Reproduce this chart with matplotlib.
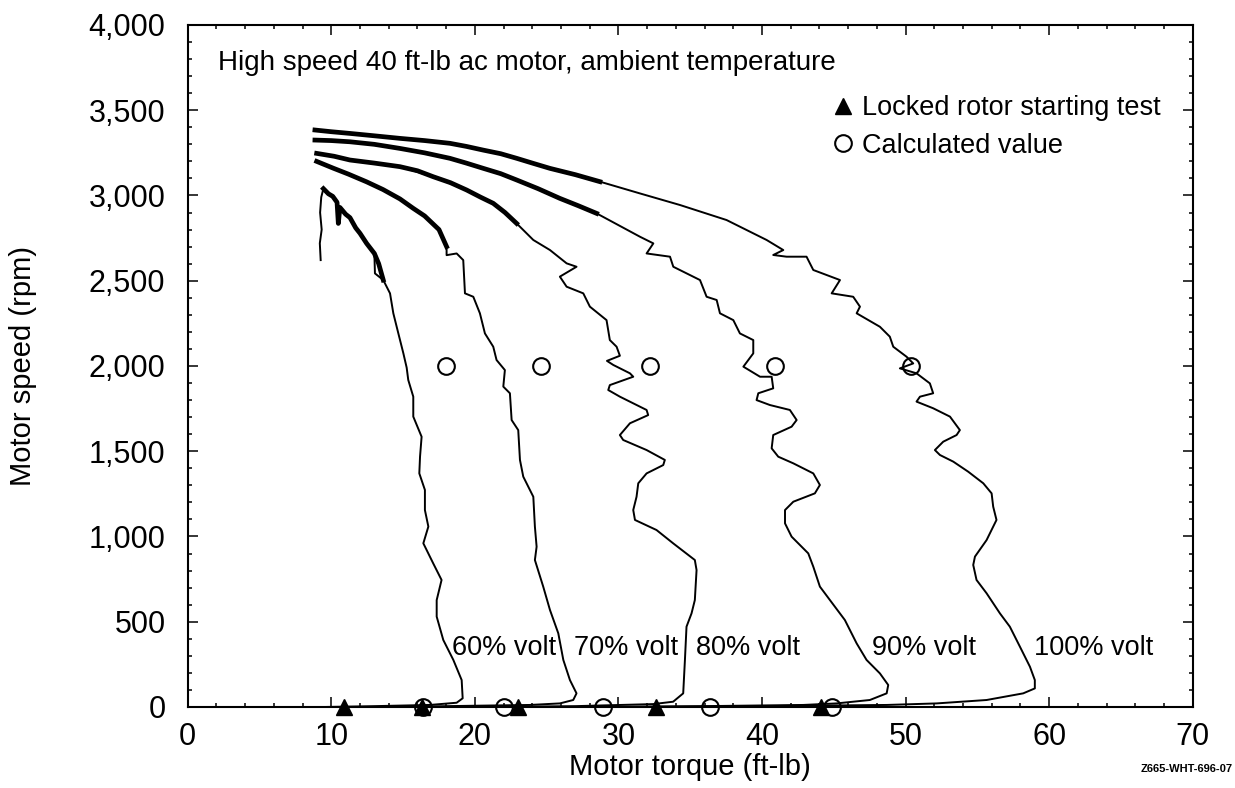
import matplotlib
matplotlib.use("Agg")
import matplotlib.pyplot as plt
from matplotlib.ticker import MultipleLocator, StrMethodFormatter

plt.rcParams['font.family'] = ['Liberation Sans', 'DejaVu Sans']

# ---- data (torque ft-lb, speed rpm) ----
v60_x = [9.26, 9.20, 9.33, 9.22, 9.30, 9.45, 10.1, 10.4, 10.49, 10.6, 11.3, 12.0, 12.46, 13.0, 13.04,
         13.62, 14.09, 14.32, 14.67, 15.02, 15.25, 15.36, 15.71, 15.71, 16.29, 16.18, 16.13, 16.52, 16.52,
         16.76, 16.41, 17.10, 17.68, 17.34, 17.34, 17.80, 18.50, 19.08, 19.15, 18.73, 16.87, 13.0, 9.5]
v60_y = [2621, 2720, 2800, 2900, 2990, 3040, 2995, 2960, 2836, 2930, 2870, 2778, 2719, 2660, 2543,
         2504, 2426, 2309, 2191, 2074, 1990, 1918, 1820, 1703, 1585, 1468, 1370, 1273, 1155,
         1058, 960, 842, 745, 627, 530, 393, 276, 158, 51, 25, 12, 5, 0]
v60_band_x = [9.45, 9.8, 10.1, 10.4, 10.49, 10.6, 11.0, 11.3, 11.7, 12.0, 12.46, 13.0, 13.3, 13.62]
v60_band_y = [3040, 3010, 2995, 2960, 2836, 2930, 2890, 2870, 2810, 2778, 2719, 2660, 2600, 2504]

v70_x = [8.98, 10.14, 12.46, 14.78, 16.5, 17.5, 18.03, 18.03, 18.73, 19.19, 19.31, 19.89, 20.35, 20.70,
         21.28, 21.51, 22.09, 21.98, 22.44, 22.56, 23.02, 23.14, 23.37, 24.07, 24.18, 24.30, 24.18,
         24.76, 25.23, 25.81, 26.16, 26.62, 27.08, 26.85, 25.92, 23.83, 18.0, 14.0]
v70_y = [3200, 3160, 3080, 2980, 2880, 2800, 2700, 2650, 2660, 2621, 2426, 2406, 2309, 2191,
         2113, 2035, 1976, 1879, 1840, 1683, 1624, 1449, 1351, 1233, 1058, 940, 862,
         706, 569, 432, 276, 158, 80, 41, 21, 12, 5, 0]
v70_band_x = [8.98, 10.14, 11.2, 12.46, 13.6, 14.78, 15.7, 16.5, 17.5, 18.03]
v70_band_y = [3200, 3160, 3125, 3080, 3035, 2980, 2925, 2880, 2800, 2700]

v80_x = [8.98, 11.3, 14.78, 17.1, 19.43, 21.28, 22.91, 24.07, 25.23, 26.39, 27.08, 25.92, 26.39, 27.55,
         28.01, 29.17, 29.4, 29.87, 30.1, 29.2, 29.64, 30.80, 31.03, 29.40, 29.29, 30.10, 31.96, 32.07,
         30.80, 30.10, 30.33, 31.96, 33.23, 33.12, 31.96, 31.38, 31.26, 31.03, 31.15, 32.65, 33.81,
         35.32, 35.44, 35.32, 35.09, 34.74, 34.63, 34.51, 33.81, 32.42, 27.0, 20.0]
v80_y = [3247, 3208, 3169, 3110, 3032, 2954, 2836, 2739, 2680, 2602, 2582, 2524, 2465, 2426,
         2348, 2269, 2152, 2113, 2060, 2030, 2006, 1957, 1937, 1888, 1859, 1820, 1742, 1712,
         1664, 1595, 1566, 1507, 1449, 1419, 1370, 1312, 1233, 1155, 1097, 1038, 960,
         862, 803, 627, 549, 471, 276, 80, 31, 17, 5, 0]
v80_band_x = [8.98, 10.2, 11.3, 13.0, 14.78, 16.0, 17.1, 18.3, 19.43, 20.4, 21.28, 22.1, 22.91]
v80_band_y = [3247, 3230, 3208, 3190, 3169, 3145, 3110, 3075, 3032, 2990, 2954, 2900, 2836]

v90_x = [8.86, 11.3, 14.78, 18.26, 20.59, 22.91, 25.92, 28.48, 31.5, 32.43, 31.96, 33.59, 33.82, 34.75,
         35.68, 36.14, 36.84, 37.07, 38.0, 38.46, 39.39, 39.39, 38.7, 39.86, 40.67, 40.78, 39.74,
         39.62, 40.55, 41.94, 42.41, 42.06, 40.78, 40.67, 41.13, 42.18, 43.57, 44.03, 43.68, 42.18,
         41.60, 41.60, 42.06, 43.22, 43.57, 44.03, 44.73, 45.77, 46.59, 47.28, 48.21, 48.79, 48.68,
         47.51, 45.19, 42.87, 36.0, 28.0]
v90_y = [3325, 3315, 3276, 3218, 3159, 3091, 2983, 2895, 2758, 2719, 2660, 2641, 2582, 2543,
         2504, 2406, 2387, 2309, 2269, 2191, 2152, 2074, 1996, 1937, 1937, 1869, 1840,
         1800, 1771, 1742, 1683, 1644, 1595, 1517, 1468, 1429, 1370, 1302, 1253, 1204,
         1155, 1077, 999, 901, 823, 706, 627, 510, 373, 276, 197, 129, 80,
         41, 21, 12, 5, 0]
v90_band_x = [8.86, 10.0, 11.3, 13.0, 14.78, 16.5, 18.26, 19.4, 20.59, 21.8, 22.91, 24.4, 25.92, 27.2, 28.48]
v90_band_y = [3325, 3322, 3315, 3300, 3276, 3250, 3218, 3190, 3159, 3128, 3091, 3040, 2983, 2940, 2895]

v100_x = [8.86, 11.3, 14.78, 18.26, 20.59, 22.91, 25.23, 28.71, 31.5, 34.29, 37.53, 40.32, 41.48,
          40.78, 41.71, 43.1, 43.57, 45.43, 44.85, 46.35, 46.82, 46.59, 48.21, 48.9, 49.14, 50.07,
          50.53, 49.6, 50.76, 51.69, 51.92, 51.0, 50.76, 51.92, 53.09, 53.78, 53.55, 52.62, 52.04,
          52.39, 53.32, 54.36, 55.41, 55.99, 56.10, 56.33, 55.64, 54.83, 54.71, 54.94, 55.64, 56.57,
          57.26, 57.96, 58.66, 59.0, 59.0, 58.19, 55.64, 52.16, 48.68, 40.0, 30.0]
v100_y = [3384, 3364, 3335, 3306, 3266, 3218, 3159, 3081, 3012, 2944, 2856, 2739, 2680,
          2651, 2641, 2641, 2563, 2504, 2426, 2406, 2348, 2309, 2230, 2172, 2113, 2054,
          2015, 1986, 1957, 1898, 1840, 1820, 1791, 1752, 1703, 1624, 1595, 1556, 1507,
          1478, 1439, 1380, 1312, 1253, 1175, 1097, 979, 882, 833, 745, 667, 549,
          471, 354, 236, 158, 109, 80, 41, 21, 12, 5, 0]
v100_band_x = [8.86, 10.0, 11.3, 13.0, 14.78, 16.5, 18.26, 19.4, 20.59, 21.8, 22.91, 24.0, 25.23, 27.0, 28.71]
v100_band_y = [3384, 3374, 3364, 3350, 3335, 3322, 3306, 3288, 3266, 3245, 3218, 3190, 3159, 3122, 3081]

calc_mid_x = [18.0, 24.6, 32.2, 40.9, 50.4]
calc_mid_y = [2000, 2000, 2000, 2000, 2000]
calc_zero_x = [16.4, 22.0, 28.9, 36.4, 44.9]
locked_x = [10.9, 16.3, 23.0, 32.6, 44.1]

volt_labels = ['60% volt', '70% volt', '80% volt', '90% volt', '100% volt']
volt_label_x = [22.0, 30.5, 39.0, 51.3, 63.1]
volt_label_y = [346, 346, 346, 346, 346]

curves = [(v60_x, v60_y, v60_band_x, v60_band_y),
          (v70_x, v70_y, v70_band_x, v70_band_y),
          (v80_x, v80_y, v80_band_x, v80_band_y),
          (v90_x, v90_y, v90_band_x, v90_band_y),
          (v100_x, v100_y, v100_band_x, v100_band_y)]

# ---- plotting ----
fig = plt.figure(figsize=(12.35, 7.88), dpi=100)
ax = fig.add_axes([0.1520, 0.1028, 0.8138, 0.8655])

for cx, cy, bx, by in curves:
    ax.plot(cx, cy, color='black', lw=1.4, zorder=3)
    # noisy start of each trace is drawn as a heavy band
    ax.plot(bx, by, color='black', lw=3.4, solid_joinstyle='round', zorder=3)

zeros = [0] * len(locked_x)
tri, = ax.plot(locked_x, zeros, linestyle='none', marker='^', ms=12, color='black',
               clip_on=False, zorder=5, label='Locked rotor starting test')
circ, = ax.plot(calc_mid_x, calc_mid_y, linestyle='none', marker='o', ms=12, mfc='none',
                mec='black', mew=1.5, zorder=5, label='Calculated value')
ax.plot(calc_zero_x, [0] * len(calc_zero_x), linestyle='none', marker='o', ms=12, mfc='none',
        mec='black', mew=1.5, clip_on=False, zorder=5)

for lab, lx, ly in zip(volt_labels, volt_label_x, volt_label_y):
    ax.text(lx, ly, lab, fontsize=19.5, ha='center', va='center', zorder=4)

ax.text(2.1, 3775, 'High speed 40 ft-lb ac motor, ambient temperature', fontsize=20,
        ha='left', va='center')

ax.legend(handles=[tri, circ], loc='upper left', bbox_to_anchor=(0.6416, 0.897),
          frameon=False, fontsize=19.5, handlelength=0.8, handletextpad=0.3,
          borderpad=0, borderaxespad=0, labelspacing=0.42, markerscale=1.0)

ax.set_xlim(0, 70)
ax.set_ylim(0, 4000)
ax.xaxis.set_major_locator(MultipleLocator(10))
ax.xaxis.set_minor_locator(MultipleLocator(2))
ax.yaxis.set_major_locator(MultipleLocator(500))
ax.yaxis.set_minor_locator(MultipleLocator(100))
ax.yaxis.set_major_formatter(StrMethodFormatter('{x:,.0f}'))

ax.tick_params(which='both', direction='in', top=True, right=True, width=1.1, colors='black')
ax.tick_params(which='major', length=7.2, labelsize=22)
ax.tick_params(which='minor', length=3)
ax.tick_params(axis='y', which='major', pad=16)
ax.tick_params(axis='x', which='major', pad=11)
for sp in ax.spines.values():
    sp.set_linewidth(1.5)

ax.set_xlabel('Motor torque (ft-lb)', fontsize=21)
ax.set_ylabel('Motor speed (rpm)', fontsize=21)
ax.xaxis.set_label_coords(0.5, -0.068)
ax.yaxis.set_label_coords(-0.150, 0.5)

fig.text(0.9985, 0.024, 'Z665-WHT-696-07', fontsize=8, fontweight='bold', ha='right', va='center')

fig.savefig('out.png', dpi=100)
